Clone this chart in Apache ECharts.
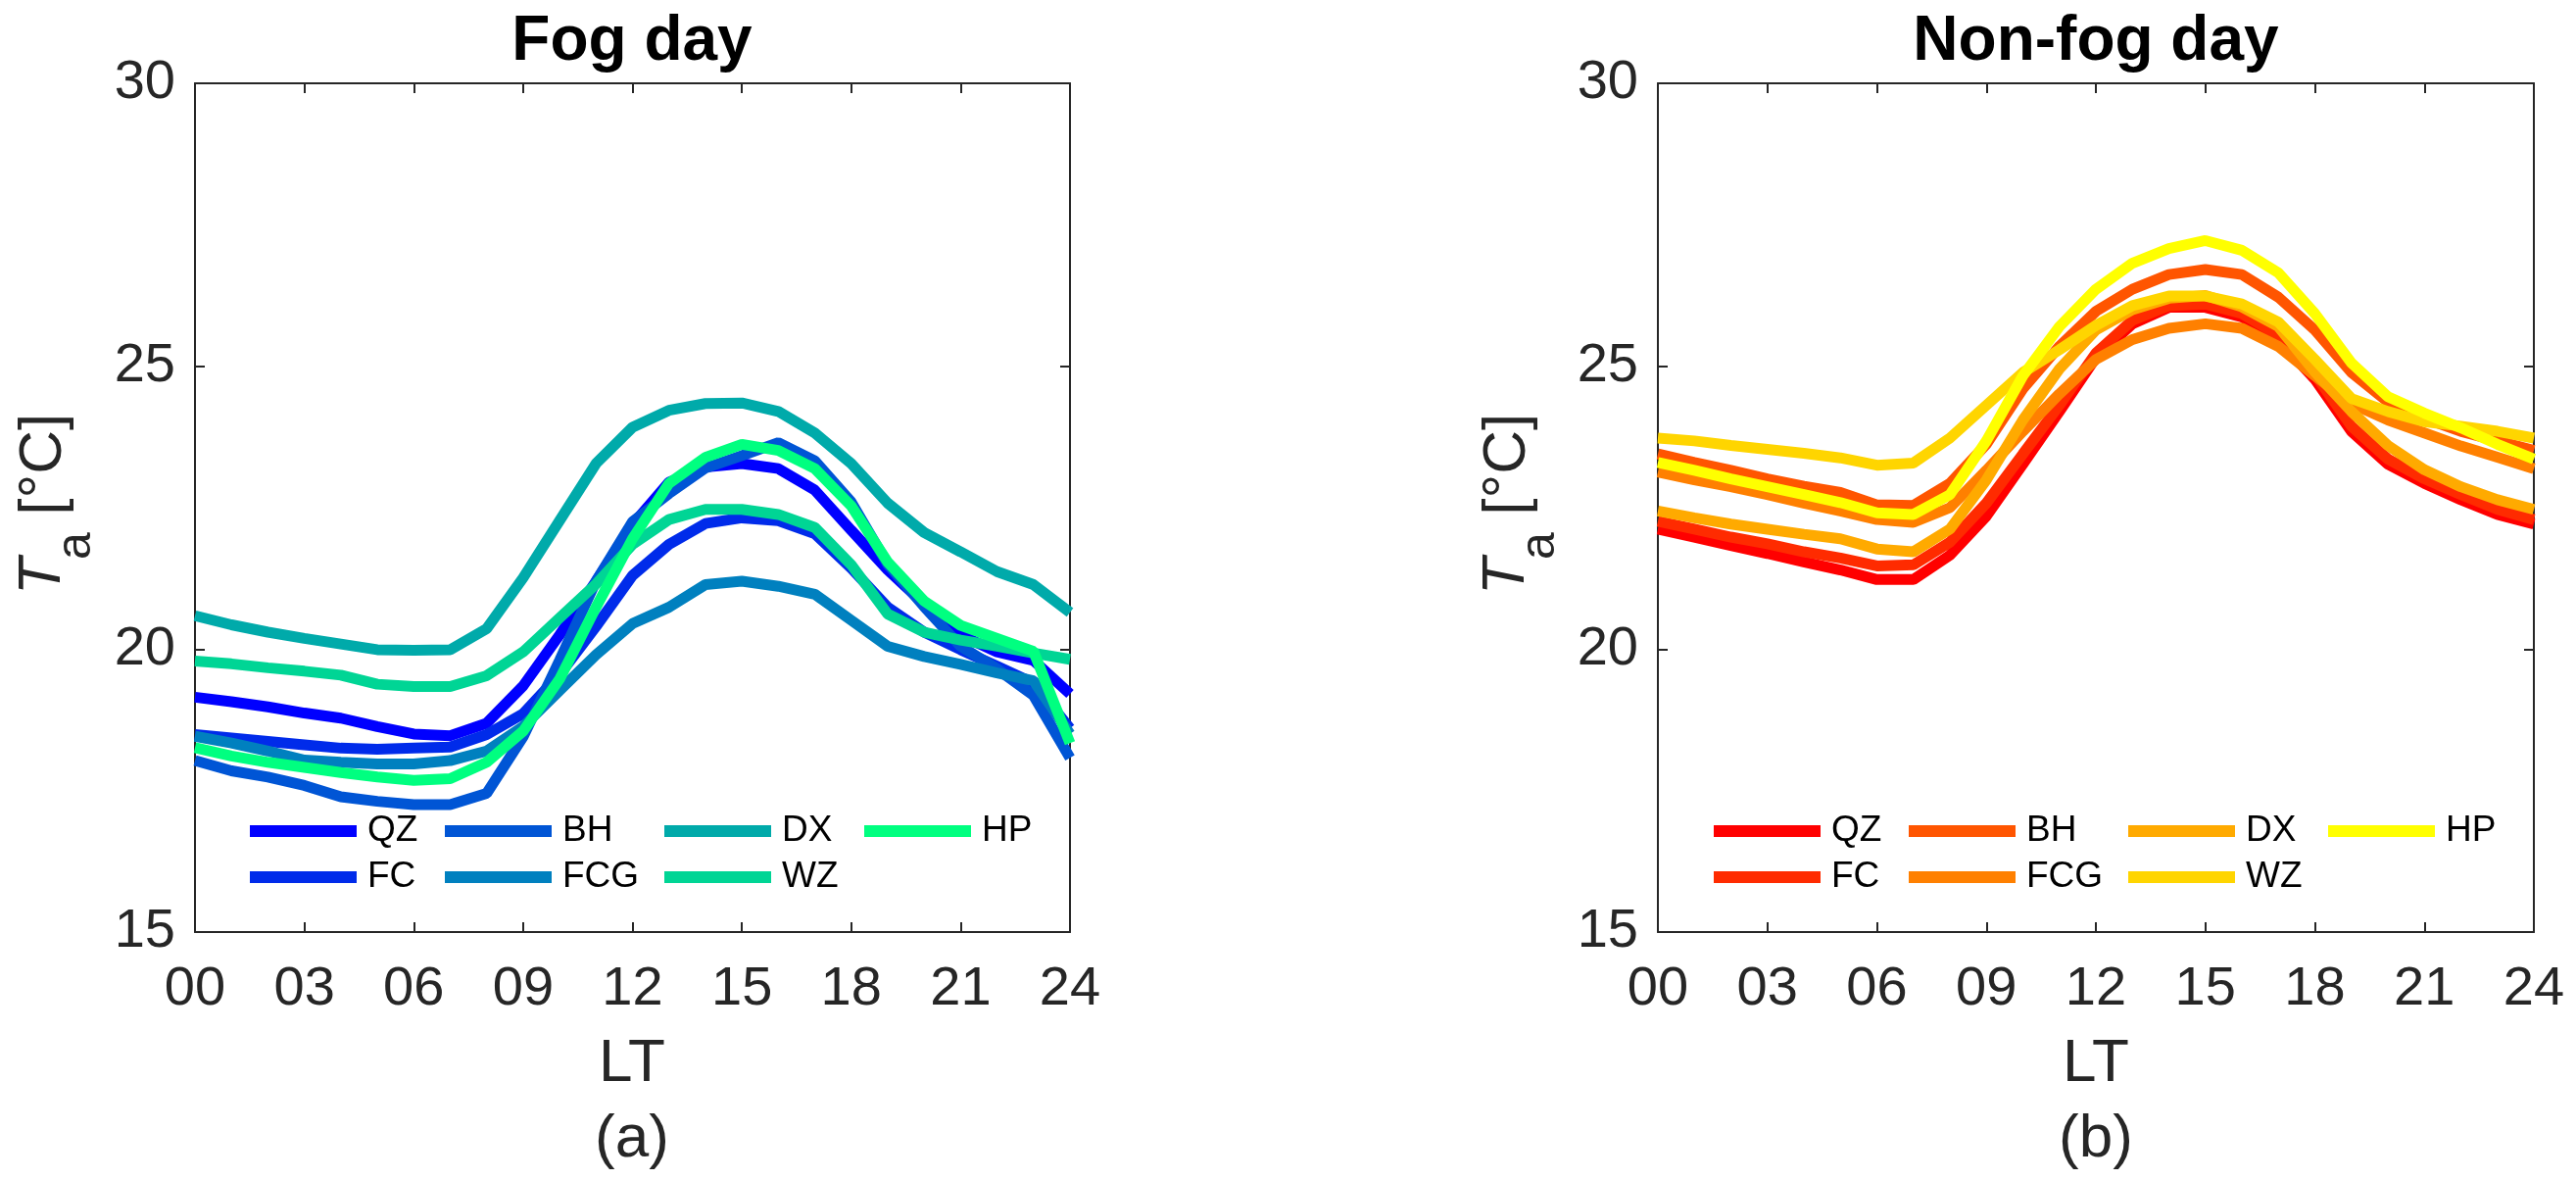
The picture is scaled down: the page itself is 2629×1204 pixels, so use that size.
<!DOCTYPE html>
<html>
<head>
<meta charset="utf-8">
<script src="https://cdn.jsdelivr.net/npm/echarts@6/dist/echarts.min.js"></script>
<style>body{margin:0;background:#fff;}</style>
</head>
<body>
<div id="main" style="width:2629px;height:1204px;"></div>
<script type="text/javascript">
// hourly mean air temperature, 00-24 LT
var hours = [0,1,2,3,4,5,6,7,8,9,10,11,12,13,14,15,16,17,18,19,20,21,22,23,24];
var xTickLabels = ['00','03','06','09','12','15','18','21','24'];
var stations = ['QZ','FC','BH','FCG','DX','WZ','HP'];

// (a) fog day
var fogQZ  = [19.15,19.07,18.98,18.87,18.78,18.63,18.50,18.47,18.69,19.35,20.25,21.20,22.20,22.95,23.22,23.28,23.19,22.81,22.10,21.40,20.80,20.25,19.95,19.80,19.21];
var fogFC  = [18.49,18.43,18.37,18.31,18.25,18.23,18.25,18.27,18.49,18.86,19.55,20.40,21.30,21.85,22.22,22.32,22.27,22.04,21.43,20.74,20.30,19.99,19.70,19.40,18.60];
var fogBH  = [18.03,17.85,17.74,17.59,17.39,17.31,17.25,17.25,17.45,18.45,19.80,21.20,22.25,22.75,23.20,23.42,23.65,23.33,22.60,21.50,20.75,20.05,19.65,19.18,18.08];
var fogFCG = [18.46,18.34,18.20,18.04,18.00,17.97,17.97,18.03,18.20,18.63,19.27,19.90,20.45,20.74,21.14,21.20,21.11,20.97,20.51,20.05,19.87,19.73,19.58,19.44,18.50];
var fogDX  = [20.59,20.43,20.30,20.19,20.09,19.99,19.98,19.99,20.36,21.26,22.27,23.28,23.92,24.22,24.34,24.35,24.20,23.82,23.28,22.58,22.06,21.72,21.37,21.14,20.65];
var fogWZ  = [19.79,19.74,19.67,19.61,19.54,19.38,19.34,19.34,19.53,19.95,20.55,21.15,21.85,22.29,22.47,22.47,22.38,22.15,21.49,20.62,20.30,20.16,20.05,19.93,19.82];
var fogHP  = [18.26,18.11,18.00,17.91,17.82,17.74,17.68,17.71,18.00,18.55,19.47,20.74,21.95,22.93,23.39,23.62,23.51,23.19,22.53,21.54,20.85,20.42,20.19,19.96,18.34];

// (b) non-fog day
var nonQZ  = [22.12,21.98,21.83,21.69,21.54,21.40,21.23,21.23,21.66,22.35,23.27,24.20,25.15,25.75,26.04,26.04,25.87,25.47,24.77,23.85,23.27,22.93,22.64,22.38,22.21];
var nonFC  = [22.26,22.12,21.98,21.86,21.72,21.61,21.47,21.49,21.89,22.58,23.45,24.31,25.23,25.81,26.07,26.10,25.93,25.55,24.86,23.94,23.36,23.01,22.73,22.47,22.29];
var nonBH  = [23.45,23.30,23.16,23.01,22.88,22.77,22.55,22.54,22.93,23.62,24.60,25.35,25.97,26.36,26.62,26.71,26.62,26.22,25.64,24.89,24.37,24.08,23.85,23.68,23.51];
var nonFCG = [23.13,22.99,22.87,22.73,22.58,22.44,22.29,22.24,22.50,23.16,23.85,24.51,25.12,25.47,25.67,25.75,25.67,25.35,24.83,24.34,24.05,23.82,23.59,23.39,23.19];
var nonDX  = [22.44,22.32,22.21,22.12,22.03,21.95,21.77,21.72,22.12,22.99,24.05,24.95,25.64,26.00,26.20,26.25,26.05,25.70,24.90,24.20,23.60,23.17,22.87,22.64,22.47];
var nonWZ  = [23.73,23.68,23.60,23.53,23.46,23.38,23.25,23.29,23.73,24.31,24.89,25.29,25.72,26.07,26.24,26.24,26.10,25.78,25.12,24.43,24.20,24.02,23.94,23.85,23.73];
var nonHP  = [23.30,23.16,23.01,22.87,22.73,22.59,22.41,22.38,22.73,23.68,24.83,25.70,26.36,26.82,27.08,27.22,27.05,26.65,25.93,25.06,24.46,24.17,23.91,23.62,23.36];

var fogData = [fogQZ, fogFC, fogBH, fogFCG, fogDX, fogWZ, fogHP];
var nonData = [nonQZ, nonFC, nonBH, nonFCG, nonDX, nonWZ, nonHP];

// winter / autumn colormaps
var fogColors = ['#0000ff','#002bea','#0055d5','#0080bf','#00aaaa','#00d595','#00ff80'];
var nonColors = ['#ff0000','#ff2b00','#ff5500','#ff8000','#ffaa00','#ffd500','#ffff00'];

var FONT = '"Liberation Sans", Arial, Helvetica, sans-serif';
var AX = '#262626';

function xAx(g, pos){
	return {
		type: 'value', gridIndex: g, position: pos,
		min: 0, max: 24, interval: 3,
		axisLine: {show: true, onZero: false, lineStyle: {color: AX, width: 2}},
		axisTick: {show: true, inside: true, length: 10, lineStyle: {color: AX, width: 2}},
		axisLabel: {
			show: pos === 'bottom', fontSize: 56, margin: 31, color: AX, fontFamily: FONT,
			formatter: function(v){ return xTickLabels[Math.round(v/3)]; }
		},
		splitLine: {show: false}
	};
}
function yAx(g, pos){
	return {
		type: 'value', gridIndex: g, position: pos,
		min: 15, max: 30, interval: 5,
		axisLine: {show: true, onZero: false, lineStyle: {color: AX, width: 2}},
		axisTick: {show: true, inside: true, length: 10, lineStyle: {color: AX, width: 2}},
		axisLabel: {show: pos === 'left', fontSize: 56, margin: 20, color: AX, fontFamily: FONT},
		splitLine: {show: false}
	};
}

var series = [];
function addSeries(data, colors, axisIdx, suffix){
	for(var i=0;i<stations.length;i++){
		var arr = data[i];
		series.push({
			name: stations[i] + suffix,
			type: 'line',
			xAxisIndex: axisIdx, yAxisIndex: axisIdx,
			data: hours.map(function(h, k){ return [h, arr[k]]; }),
			showSymbol: false, symbol: 'none',
			itemStyle: {color: colors[i]},
			lineStyle: {color: colors[i], width: 11},
			animation: false
		});
	}
}
addSeries(fogData, fogColors, 0, '');
addSeries(nonData, nonColors, 2, ' ');

var legendCols = [[0,1],[2,3],[4,5],[6]];
var legendOffs = [0, 199, 423, 627];
var legends = [];
function addLegend(baseX, suffix){
	for(var c=0;c<legendCols.length;c++){
		legends.push({
			orient: 'vertical',
			left: baseX + legendOffs[c], top: 828,
			padding: 0, itemGap: 7,
			itemWidth: 109, itemHeight: 12, icon: 'rect',
			selectedMode: false,
			formatter: function(n){ return n.trim(); },
			textStyle: {fontSize: 37, lineHeight: 40, color: '#000', fontFamily: FONT, padding: [0,0,0,6]},
			data: legendCols[c].map(function(i){ return stations[i] + suffix; })
		});
	}
}
addLegend(255, '');
addLegend(1749, ' ');

function yName(x0){
	return {
		type: 'group', x: x0, y: 607, rotation: Math.PI/2,
		children: [
			{type: 'text', x: 0, y: 44, style: {text: 'T', font: 'italic 62px ' + FONT, fill: AX, verticalAlign: 'middle'}},
			{type: 'text', x: 36, y: 78, style: {text: 'a', font: '50px ' + FONT, fill: AX, verticalAlign: 'middle'}},
			{type: 'text', x: 64, y: 45, style: {text: ' [\u00B0C]', font: '62px ' + FONT, fill: AX, verticalAlign: 'middle'}}
		]
	};
}

function ttl(text, cx, top, size, weight, color){
	return {text: text, left: cx, top: top, textAlign: 'center', padding: 0,
		textStyle: {fontSize: size, fontWeight: weight, color: color, fontFamily: FONT}};
}

var option = {
	backgroundColor: '#fff',
	animation: false,
	title: [
		ttl('Fog day', 645, 11, 64, 'bold', '#000'),
		ttl('Non-fog day', 2139, 11, 64, 'bold', '#000'),
		ttl('LT', 645, 1055, 62, 'normal', AX),
		ttl('LT', 2139, 1055, 62, 'normal', AX),
		ttl('(a)', 645, 1132, 62, 'normal', AX),
		ttl('(b)', 2139, 1132, 62, 'normal', AX)
	],
	grid: [
		{left: 199, top: 85, width: 893, height: 866},
		{left: 1692, top: 85, width: 894, height: 866}
	],
	xAxis: [xAx(0,'bottom'), xAx(0,'top'), xAx(1,'bottom'), xAx(1,'top')],
	yAxis: [yAx(0,'left'), yAx(0,'right'), yAx(1,'left'), yAx(1,'right')],
	legend: legends,
	graphic: [yName(0), yName(1494)],
	series: series
};

var myChart = echarts.init(document.getElementById('main'));
myChart.setOption(option);
</script>
</body>
</html>
